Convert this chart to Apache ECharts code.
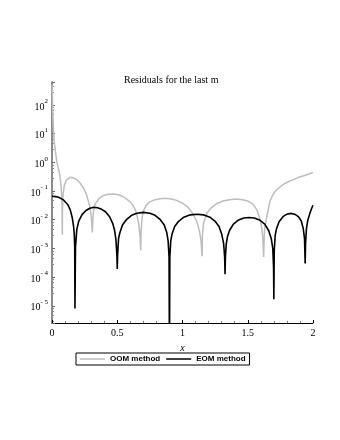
<!DOCTYPE html>
<html>
<head>
<meta charset="utf-8">
<script src="https://cdn.jsdelivr.net/npm/echarts@6/dist/echarts.min.js"></script>
<style>
  html, body { margin: 0; padding: 0; background: #fff; }
  #residual_chart { width: 340px; height: 440px; }
</style>
</head>
<body>
<div id="residual_chart"></div>
<script>
// 数据
const chartTitle = 'Residuals for the last m'
const legendNames = ['OOM method', 'EOM method']
const xTickLabels = ['0', '0.5', '1', '1.5', '2']

const oomX = [0, 0.004, 0.008, 0.012, 0.02, 0.03, 0.038, 0.047, 0.056, 0.064, 0.07, 0.074, 0.077, 0.079,
  0.08, 0.085, 0.095, 0.11, 0.125, 0.14, 0.16, 0.19, 0.215, 0.24, 0.265, 0.285, 0.297, 0.304, 0.309,
  0.312, 0.318, 0.33, 0.36, 0.39, 0.43, 0.47, 0.51, 0.55, 0.6, 0.63, 0.65, 0.665, 0.675, 0.68,
  0.683, 0.69, 0.7, 0.72, 0.75, 0.79, 0.84, 0.89, 0.94, 0.99, 1.04, 1.08, 1.11, 1.13, 1.142, 1.15,
  1.153, 1.16, 1.175, 1.19, 1.22, 1.26, 1.31, 1.36, 1.41, 1.46, 1.5, 1.54, 1.57, 1.59, 1.605, 1.615, 1.622,
  1.625, 1.63, 1.645, 1.66, 1.67, 1.69, 1.71, 1.74, 1.77, 1.81, 1.85, 1.89, 1.93, 1.97, 2.0]
const oomY = [500, 150, 30, 10, 4, 1.8, 1.0, 0.65, 0.45, 0.25, 0.14, 0.07, 0.03, 0.003,
  0.02, 0.08, 0.16, 0.24, 0.28, 0.3, 0.29, 0.25, 0.19, 0.13, 0.075, 0.035, 0.018, 0.009, 0.0036,
  0.008, 0.02, 0.035, 0.055, 0.068, 0.077, 0.079, 0.074, 0.062, 0.042, 0.027, 0.015, 0.007, 0.0025, 0.00085,
  0.004, 0.012, 0.02, 0.031, 0.042, 0.05, 0.055, 0.055, 0.05, 0.04, 0.028, 0.016, 0.0085, 0.004, 0.0018, 0.00053,
  0.003, 0.007, 0.012, 0.018, 0.026, 0.036, 0.045, 0.05, 0.053, 0.05, 0.045, 0.035, 0.022, 0.012, 0.006, 0.0025, 0.0005,
  0.002, 0.005, 0.012, 0.026, 0.044, 0.07, 0.098, 0.13, 0.167, 0.21, 0.25, 0.3, 0.34, 0.39, 0.44]

const eomX = [0, 0.03, 0.06, 0.09, 0.12, 0.14, 0.155, 0.165, 0.17, 0.174, 0.176,
  0.18, 0.19, 0.205, 0.23, 0.26, 0.29, 0.32, 0.35, 0.38, 0.41, 0.44, 0.465, 0.48, 0.49, 0.497, 0.5,
  0.503, 0.51, 0.52, 0.54, 0.57, 0.61, 0.65, 0.7, 0.75, 0.79, 0.83, 0.86, 0.88, 0.89, 0.897, 0.9,
  0.903, 0.91, 0.92, 0.94, 0.97, 1.01, 1.06, 1.11, 1.16, 1.21, 1.25, 1.28, 1.3, 1.315, 1.323, 1.326,
  1.329, 1.335, 1.345, 1.36, 1.39, 1.43, 1.47, 1.51, 1.55, 1.59, 1.63, 1.66, 1.68, 1.692, 1.698, 1.7,
  1.703, 1.71, 1.72, 1.74, 1.77, 1.8, 1.83, 1.86, 1.89, 1.91, 1.925, 1.935, 1.94,
  1.943, 1.95, 1.96, 1.975, 1.99, 2.0]
const eomY = [0.066, 0.064, 0.058, 0.048, 0.034, 0.022, 0.012, 0.006, 0.0035, 0.0012, 0.000008,
  0.0011, 0.0045, 0.009, 0.015, 0.021, 0.025, 0.027, 0.026, 0.023, 0.019, 0.013, 0.0075, 0.0042, 0.002, 0.0006, 0.00019,
  0.0006, 0.0022, 0.0035, 0.0065, 0.01, 0.0142, 0.0168, 0.018, 0.0168, 0.0142, 0.01, 0.0065, 0.0035, 0.0018, 0.0005, 0.0000001,
  0.0005, 0.0018, 0.0032, 0.0058, 0.0088, 0.0122, 0.0148, 0.0155, 0.0148, 0.0122, 0.0088, 0.0058, 0.0032, 0.0015, 0.0005, 0.000125,
  0.0005, 0.0014, 0.0026, 0.0042, 0.007, 0.0098, 0.0115, 0.012, 0.0115, 0.0098, 0.007, 0.0042, 0.0022, 0.001, 0.0002, 0.000017,
  0.0008, 0.0028, 0.0048, 0.0085, 0.0128, 0.0156, 0.0166, 0.0156, 0.0125, 0.009, 0.005, 0.0022, 0.0003,
  0.0015, 0.005, 0.0095, 0.016, 0.025, 0.032]

const serif = '"Liberation Serif", "DejaVu Serif", serif'

function pairs (xs, ys) {
  return xs.map((x, i) => [x, ys[i]])
}

const dom = document.getElementById('residual_chart')
let myChart = echarts.init(dom, null, { renderer: 'canvas' })

let option = {
  animation: false,
  backgroundColor: '#fff',
  title: {
    text: chartTitle,
    left: 119,
    top: 70,
    textStyle: { fontFamily: serif, fontSize: 10, fontWeight: 'normal', color: '#000' }
  },
  legend: {
    left: 76,
    top: 353,
    data: legendNames,
    icon: 'rect',
    itemWidth: 25,
    itemHeight: 1.5,
    itemGap: 6,
    padding: [2, 4, 2, 4],
    borderColor: '#000',
    borderWidth: 1,
    borderRadius: 0,
    textStyle: { fontFamily: '"Liberation Sans", Arial, sans-serif', fontSize: 8, fontWeight: 'bold', color: '#000' }
  },
  grid: {
    left: 52,
    right: 27,
    top: 82,
    bottom: 117,
    containLabel: false,
    outerBoundsMode: 'none'
  },
  xAxis: {
    type: 'value',
    min: 0,
    max: 2,
    interval: 0.5,
    name: 'x',
    nameLocation: 'middle',
    nameGap: 19,
    nameTextStyle: { fontFamily: serif, fontStyle: 'italic', fontSize: 10, color: '#000' },
    axisLine: { show: true, onZero: false, lineStyle: { color: '#000', width: 1 } },
    axisTick: { show: true, inside: true, length: 3, lineStyle: { color: '#000' } },
    minorTick: { show: true, splitNumber: 5, length: 2, lineStyle: { color: '#777' } },
    splitLine: { show: false },
    axisLabel: {
      margin: 5,
      fontFamily: serif,
      fontSize: 10,
      color: '#000',
      formatter: function (v) {
        const i = Math.round(v / 0.5)
        return xTickLabels[i] !== undefined ? xTickLabels[i] : ''
      }
    }
  },
  yAxis: {
    type: 'log',
    logBase: 10,
    min: Math.pow(10, -5.6),
    max: Math.pow(10, 2.8),
    axisLine: { show: true, lineStyle: { color: '#666', width: 1.5 } },
    axisTick: { show: true, inside: true, length: 3, lineStyle: { color: '#666' } },
    minorTick: { show: true, splitNumber: 5, length: 2, lineStyle: { color: '#888' } },
    splitLine: { show: false },
    axisLabel: {
      showMinLabel: false,
      showMaxLabel: false,
      margin: 4,
      formatter: function (v) {
        const e = Math.log10(v)
        const r = Math.round(e)
        if (Math.abs(e - r) > 0.01) return ''
        const sup = r < 0 ? '- ' + Math.abs(r) : String(r)
        return '{b|10}{s|' + sup + '}'
      },
      rich: {
        b: { fontFamily: serif, fontSize: 10, color: '#000', lineHeight: 14, verticalAlign: 'bottom' },
        s: { fontFamily: serif, fontSize: 7, color: '#000', lineHeight: 14, verticalAlign: 'top' }
      }
    }
  },
  series: [
    {
      name: legendNames[0],
      type: 'line',
      data: pairs(oomX, oomY),
      showSymbol: false,
      symbol: 'none',
      clip: true,
      lineStyle: { color: '#bdbdbd', width: 1.5 },
      itemStyle: { color: '#bdbdbd' }
    },
    {
      name: legendNames[1],
      type: 'line',
      data: pairs(eomX, eomY),
      showSymbol: false,
      symbol: 'none',
      clip: true,
      lineStyle: { color: '#000', width: 1.6 },
      itemStyle: { color: '#000' }
    }
  ]
}

myChart.setOption(option, true)
</script>
</body>
</html>
